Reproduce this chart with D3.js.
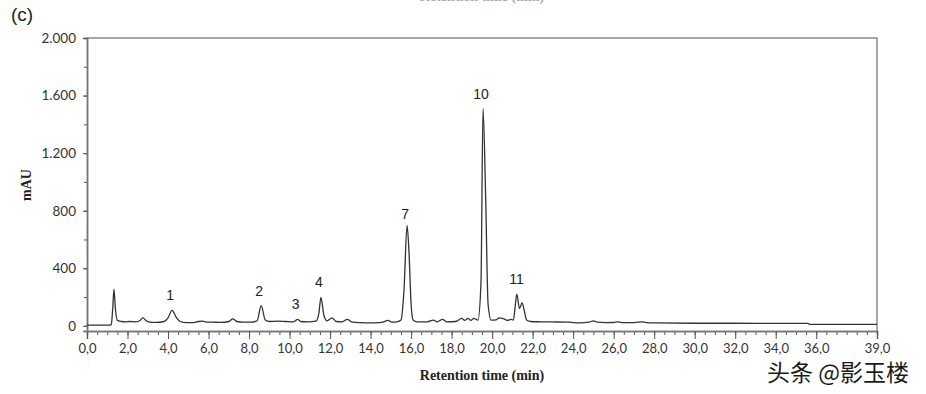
<!DOCTYPE html>
<html>
<head>
<meta charset="utf-8">
<script src="https://cdn.jsdelivr.net/npm/d3@7"></script>
<style>
  body { margin: 0; background: #fff; }
  svg { display: block; }
</style>
</head>
<body>
<svg id="chart" width="926" height="394"></svg>
<script>
// retention time (min) and absorbance (mAU)
const times = [0, 1.15, 1.2, 1.27, 1.33, 1.4, 1.5, 1.7, 1.9, 2.1, 2.4, 2.6, 2.76, 2.92, 3.1, 3.4, 3.8, 4.0, 4.2, 4.4,
  4.6, 4.9, 5.2, 5.5, 5.7, 5.9, 6.2, 6.6, 7.0, 7.2, 7.4, 7.7, 8.1, 8.4, 8.6, 8.8, 9.0, 9.4, 9.8, 10.2,
  10.4, 10.55, 10.9, 11.3, 11.45, 11.55, 11.7, 11.85, 12.1, 12.3, 12.6, 12.85, 13.05, 13.5, 14.0, 14.4, 14.6, 14.86, 15.05, 15.3,
  15.5, 15.65, 15.8, 15.9, 16.0, 16.1, 16.3, 16.8, 17.1, 17.3, 17.55, 17.75, 18.2, 18.5, 18.65, 18.8, 18.95, 19.1, 19.3, 19.45,
  19.55, 19.68, 19.8, 19.95, 20.2, 20.35, 20.55, 20.75, 20.95, 21.05, 21.15, 21.22, 21.35, 21.48, 21.58, 21.7, 21.9, 22.4, 23.0, 23.8,
  24.3, 24.8, 25.0, 25.2, 25.6, 26.0, 26.2, 26.4, 27.0, 27.4, 27.6, 28.0, 30.0, 32.0, 34.0, 35.6, 35.65, 39.0];
const mAU = [5, 5, 10, 120, 255, 120, 38, 30, 27, 30, 28, 35, 55, 35, 26, 24, 30, 55, 108, 60,
  30, 22, 22, 30, 32, 26, 25, 24, 30, 48, 30, 25, 25, 35, 140, 40, 30, 32, 30, 28,
  45, 30, 28, 32, 90, 198, 70, 35, 55, 30, 28, 45, 28, 22, 20, 22, 25, 38, 25, 28,
  40, 250, 698, 500, 150, 40, 28, 28, 40, 28, 45, 28, 30, 52, 38, 52, 38, 52, 40, 300,
  1510, 900, 150, 40, 42, 55, 50, 38, 45, 40, 150, 220, 120, 160, 110, 40, 30, 28, 27, 25,
  20, 25, 35, 25, 22, 23, 28, 22, 22, 28, 22, 20, 18, 18, 17, 17, 10, 10];

// peak numbers and where they sit
const peakLabels = ["1", "2", "3", "4", "7", "10", "11"];
const peakTimes = [4.2, 8.6, 10.4, 11.55, 15.8, 19.55, 21.3];
const peakTops = [108, 140, 45, 198, 698, 1510, 220];

const xTicks = [0, 2, 4, 6, 8, 10, 12, 14, 16, 18, 20, 22, 24, 26, 28, 30, 32, 34, 36, 39];
const yTicks = [0, 400, 800, 1200, 1600, 2000];

const svg = d3.select("#chart");
const mLeft = 87, mRight = 877, mTop = 38, mBottom = 331;

const x = d3.scaleLinear().domain([0, 39]).range([mLeft, mRight]);
const y = d3.scaleLinear().domain([-36, 2000]).range([mBottom, mTop]);

const fmtX = d => d3.format(".1f")(d).replace(".", ",");
const fmtY = d => d3.format(",")(d).replace(",", ".");

// frame
svg.append("path")
  .attr("d", `M${mLeft},${mTop}H${mRight}V${mBottom}`)
  .attr("fill", "none").attr("stroke", "#8a8a8a").attr("stroke-width", 1.5);

// x axis: minor ticks every 0.5 min
const gx = svg.append("g").attr("transform", `translate(0,${mBottom})`);
gx.call(d3.axisBottom(x).tickValues(d3.range(0, 39.01, 0.5)).tickSize(4).tickFormat(""));
gx.append("g").call(d3.axisBottom(x).tickValues(xTicks).tickSize(8).tickPadding(2).tickFormat(fmtX));
gx.selectAll(".domain").attr("stroke", "#777").attr("stroke-width", 1.5);
gx.selectAll(".tick line").attr("stroke", "#555");
gx.selectAll("text").attr("font-family", "Lato, 'Open Sans', sans-serif").attr("font-size", 13)
  .attr("fill", "#333").attr("dy", "0.9em");

// y axis
const gy = svg.append("g").attr("transform", `translate(${mLeft},0)`);
gy.call(d3.axisLeft(y).tickValues(d3.range(0, 2001, 200)).tickSize(3).tickFormat(""));
gy.append("g").call(d3.axisLeft(y).tickValues(yTicks).tickSize(4).tickPadding(7).tickFormat(fmtY));
gy.selectAll(".domain").attr("stroke", "#777").attr("stroke-width", 1.5);
gy.selectAll(".tick line").attr("stroke", "#555");
gy.selectAll("text").attr("font-family", "Lato, 'Open Sans', sans-serif").attr("font-size", 13.5).attr("fill", "#333");

// trace
const points = times.map((t, i) => [t, mAU[i]]);
svg.append("path")
  .datum(points)
  .attr("fill", "none")
  .attr("stroke", "#333")
  .attr("stroke-width", 1.3)
  .attr("d", d3.line().x(d => x(d[0])).y(d => y(d[1])).curve(d3.curveMonotoneX));

// peak numbers
svg.selectAll(".peak")
  .data(peakLabels)
  .join("text")
  .attr("x", (d, i) => x(peakTimes[i]) - 2)
  .attr("y", (d, i) => y(peakTops[i]) - (peakLabels[i] === "7" ? 6 : 10))
  .attr("text-anchor", "middle")
  .attr("font-family", "Arial, 'Liberation Sans', sans-serif")
  .attr("font-size", 14)
  .attr("fill", "#222")
  .text(d => d);

// axis titles
svg.append("text")
  .attr("transform", "translate(31,185) rotate(-90)")
  .attr("text-anchor", "middle")
  .attr("font-family", "'Liberation Serif', 'DejaVu Serif', serif")
  .attr("font-weight", "bold").attr("font-size", 14).attr("fill", "#222")
  .text("mAU");

svg.append("text")
  .attr("x", (mLeft + mRight) / 2).attr("y", 380)
  .attr("text-anchor", "middle")
  .attr("font-family", "'Liberation Serif', 'DejaVu Serif', serif")
  .attr("font-weight", "bold").attr("font-size", 14).attr("fill", "#222")
  .text("Retention time (min)");

// cut-off title of the panel above
svg.append("text")
  .attr("x", (mLeft + mRight) / 2).attr("y", 1)
  .attr("text-anchor", "middle")
  .attr("font-family", "'Liberation Serif', 'DejaVu Serif', serif")
  .attr("font-weight", "bold").attr("font-size", 14).attr("fill", "#aaa")
  .text("Retention time (min)");

// panel letter
svg.append("text")
  .attr("x", 11).attr("y", 21)
  .attr("font-family", "Arial, 'Liberation Sans', sans-serif")
  .attr("font-size", 19).attr("fill", "#222")
  .text("(c)");

// watermark
svg.append("text")
  .attr("x", 767).attr("y", 381)
  .attr("font-family", "'Noto Sans CJK SC', sans-serif")
  .attr("font-size", 23).attr("fill", "#1a1a1a")
  .attr("stroke", "#fff").attr("stroke-width", 0.6).attr("paint-order", "stroke")
  .text("头条 @影玉楼");
</script>
</body>
</html>
